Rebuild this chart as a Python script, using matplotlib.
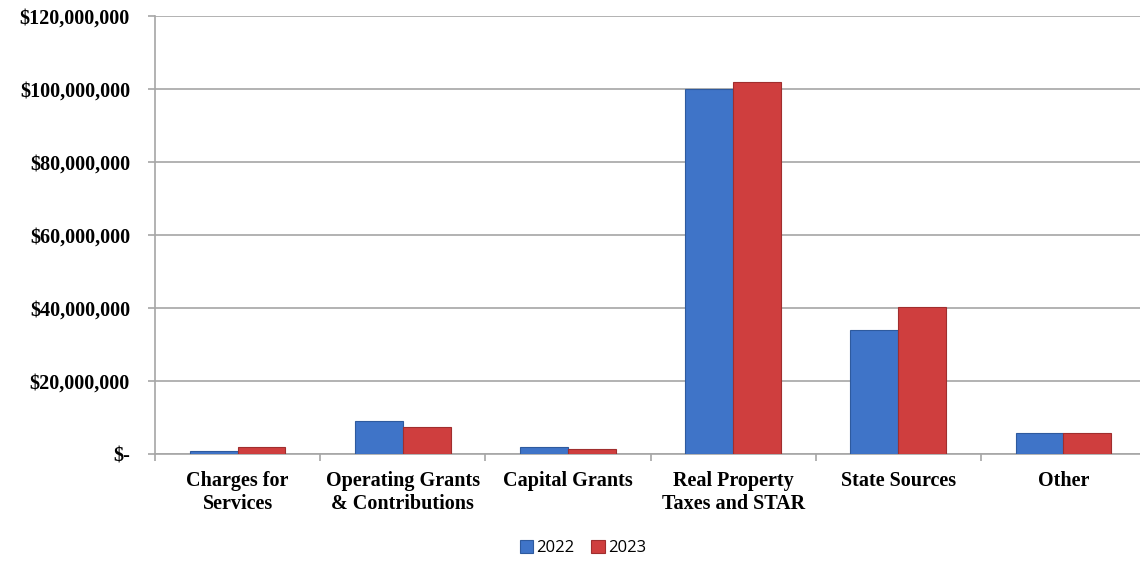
import numpy as np
import matplotlib
matplotlib.use("Agg")
import matplotlib.pyplot as plt
from matplotlib.ticker import FuncFormatter, FixedLocator

categories = [
    "Charges for\nServices",
    "Operating Grants\n& Contributions",
    "Capital Grants",
    "Real Property\nTaxes and STAR",
    "State Sources",
    "Other",
]
values_2022 = [0.8e6, 9.1e6, 2.0e6, 99.9e6, 34.1e6, 5.7e6]
values_2023 = [2.0e6, 7.3e6, 1.5e6, 101.8e6, 40.3e6, 5.7e6]
years = ["2022", "2023"]

blue = "#3F74C8"
red = "#CF3E3E"
grid_color = "#A6A6A6"

fig = plt.figure(figsize=(11.4, 5.61), dpi=100)
ax = fig.add_axes([155 / 1140, 1 - 454 / 561, 991 / 1140, 438 / 561])

x = np.arange(len(categories))
w = 0.29
ax.bar(x - w / 2, values_2022, w, color=blue, edgecolor="#2E5A9E", linewidth=0.8, label=years[0], zorder=3)
ax.bar(x + w / 2, values_2023, w, color=red, edgecolor="#A02E2E", linewidth=0.8, label=years[1], zorder=3)

ax.set_xlim(-0.5, len(categories) - 0.5)
ax.set_ylim(0, 120e6)
ax.set_yticks(np.arange(0, 120e6 + 1, 20e6))


def money(v, pos):
    if v == 0:
        return "$-"
    return "${:,.0f}".format(v)


ax.yaxis.set_major_formatter(FuncFormatter(money))
ax.grid(axis="y", color=grid_color, linewidth=1.2, zorder=0)

ax.set_xticks(x)
ax.set_xticklabels(categories, fontfamily="Liberation Serif", fontweight="bold",
                   fontsize=14.5, linespacing=1.2)
ax.tick_params(axis="x", which="major", length=0, pad=12)
ax.xaxis.set_minor_locator(FixedLocator(np.arange(-0.5, len(categories), 1.0)))
ax.tick_params(axis="x", which="minor", length=5, color=grid_color, width=1.2)

for lab in ax.get_yticklabels():
    lab.set_fontfamily("Liberation Serif")
    lab.set_fontweight("bold")
    lab.set_fontsize(14.5)
ax.tick_params(axis="y", length=5, color=grid_color, width=1.2, pad=13)

for side in ["top", "right"]:
    ax.spines[side].set_visible(False)
for side in ["left", "bottom"]:
    ax.spines[side].set_color(grid_color)
    ax.spines[side].set_linewidth(1.2)

fig.legend(loc="center", bbox_to_anchor=(583 / 1140, 1 - 548 / 561), ncol=2, frameon=False,
           prop={"family": "Open Sans", "size": 12}, handlelength=0.8, handleheight=0.8,
           handletextpad=0.2, columnspacing=1.0)

fig.savefig("out.png", dpi=100)
